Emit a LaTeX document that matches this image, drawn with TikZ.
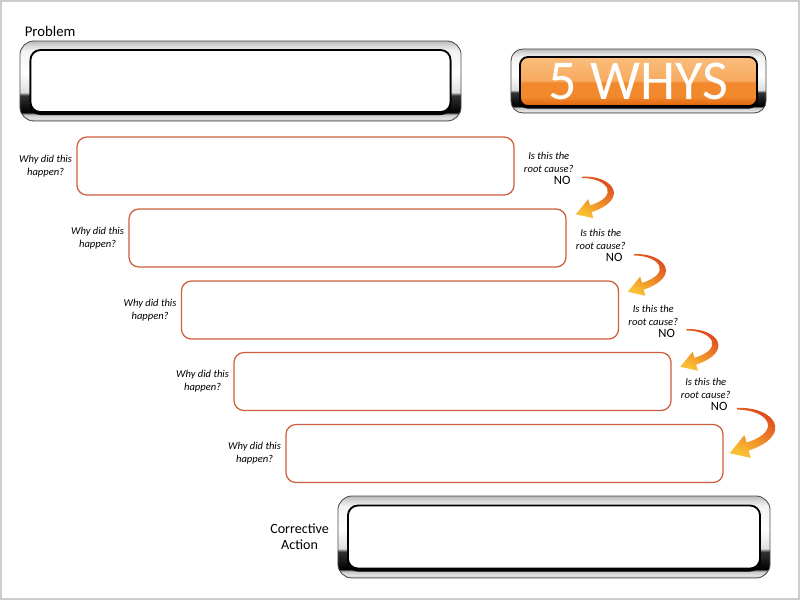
\documentclass[tikz,border=0pt]{standalone}
\usepackage{fontspec}
\setmainfont{Carlito}
\usepackage{tikz}
\usetikzlibrary{positioning}
\usepackage{xcolor}
\definecolor{whyline}{RGB}{205,95,60}
\definecolor{arrowred}{RGB}{215,50,25}
\definecolor{arroworange}{RGB}{240,105,30}
\definecolor{arrowyellow}{RGB}{250,190,50}
\definecolor{pageframe}{RGB}{205,205,205}
\definecolor{glossdark}{RGB}{225,100,15}
\definecolor{glossmid}{RGB}{242,138,45}
\definecolor{glosslight}{RGB}{247,170,95}
\definecolor{glosstop}{RGB}{250,190,125}

% chrome frame, light at the top, dark low sides
\pgfdeclareverticalshading{chrome}{100bp}{color(0bp)=(gray!75); color(25bp)=(gray!75);
  color(26.5bp)=(gray!20); color(29bp)=(gray!45); color(30.5bp)=(black);
  color(41bp)=(black!80); color(43bp)=(gray!25); color(55bp)=(white);
  color(69bp)=(gray!10); color(72bp)=(gray!30); color(75bp)=(gray!55); color(100bp)=(gray!55)}
\pgfdeclareverticalshading{orangegloss}{100bp}{color(0bp)=(glossdark); color(25bp)=(glossdark);
  color(35bp)=(glossmid); color(49bp)=(glossmid); color(51bp)=(glosslight);
  color(75bp)=(glosstop); color(100bp)=(glosstop)}

\begin{document}
\begin{tikzpicture}[x=0.025cm, y=-0.025cm,
  chromeframe/.style={shade, shading=chrome, draw=gray!60!black, line width=0.6pt, rounded corners=0.35cm},
  chromeinner/.style={fill=white, draw=black, line width=1.3pt, rounded corners=0.25cm,
    preaction={draw=black, line width=1.3pt, transform canvas={yshift=-1.5pt}}},
  orangeinner/.style={shade, shading=orangegloss, draw=black, line width=1.3pt, rounded corners=0.2cm,
    preaction={draw=black, line width=1.3pt, transform canvas={yshift=-1.2pt}}},
  whybox/.style={draw=whyline, line width=0.9pt, fill=white, rounded corners=0.25cm,
    minimum width=10.925cm, minimum height=1.45cm},
  asktext/.style={font=\fontsize{7.5}{9}\selectfont\itshape, align=center, inner sep=0pt},
  notext/.style={font=\fontsize{9}{10}\selectfont, inner sep=0pt},
  lbltext/.style={font=\fontsize{10.5}{11.5}\selectfont, inner sep=0pt},
  noarrow/.pic={
    \shade[top color=arrowred, middle color=arroworange, bottom color=arrowyellow, shading angle=-30]
      (0,0.7) -- (0,-0.7) .. controls (32,-2) and (48,22) .. (9.8,34.9) -- (11.6,41)
      -- (-6,37) -- (6.3,22) -- (8.2,28.1) .. controls (38,19) and (27,1) .. (0,0.7) -- cycle;
  }]
  \useasboundingbox (0,0) rectangle (800,600);
  \draw[pageframe, line width=1.5pt] (1,1) rectangle (799,599);

  % Problem
  \node[chromeframe, minimum width=11.025cm, minimum height=2cm] (problem) at (240.5,81) {};
  \node[chromeinner, minimum width=10.5cm, minimum height=1.55cm] (probleminner) at (problem.center) {};
  \node[lbltext, anchor=base west] (lblproblem) at ([shift={(5,-4)}]problem.north west) {Problem};

  % 5 WHYS
  \node[chromeframe, rounded corners=0.3cm, minimum width=6.375cm, minimum height=1.6cm] (fivewhys) at (638.5,81) {};
  \node[orangeinner, minimum width=5.925cm, minimum height=1.225cm, text=white,
    font=\fontsize{40}{40}\selectfont] (fivewhysinner) at ([shift={(0,0.5)}]fivewhys.center) {5 WHYS};

  % Why boxes
  \node[whybox] (why1) at (295.5,166) {};
  \node[whybox] (why2) at (347.5,238) {};
  \node[whybox] (why3) at (400,310) {};
  \node[whybox] (why4) at (452.5,381.5) {};
  \node[whybox] (why5) at (504.5,453.5) {};

  \node[asktext, left=0.1cm of why1] (ask1) {Why did this\\happen?};
  \node[asktext, left=0.1cm of why2] (ask2) {Why did this\\happen?};
  \node[asktext, left=0.1cm of why3] (ask3) {Why did this\\happen?};
  \node[asktext, left=0.1cm of why4] (ask4) {Why did this\\happen?};
  \node[asktext, left=0.1cm of why5] (ask5) {Why did this\\happen?};

  % Root cause checks
  \node[asktext, right=0.225cm of why1, yshift=0.0875cm] (cause1) {Is this the\\root cause?};
  \node[asktext, right=0.225cm of why2, yshift=-0.0375cm] (cause2) {Is this the\\root cause?};
  \node[asktext, right=0.225cm of why3, yshift=-0.1375cm] (cause3) {Is this the\\root cause?};
  \node[asktext, right=0.225cm of why4, yshift=-0.175cm] (cause4) {Is this the\\root cause?};

  \node[notext, below left=0.0875cm and 0.075cm of cause1.south east] (no1) {NO};
  \node[notext, below left=0.0875cm and 0.075cm of cause2.south east] (no2) {NO};
  \node[notext, below left=0.0875cm and 0.075cm of cause3.south east] (no3) {NO};
  \node[notext, below left=0.0875cm and 0.075cm of cause4.south east] (no4) {NO};

  \pic at ([shift={(11,-3.5)}]no1.east) {noarrow};
  \pic at ([shift={(11,-3)}]no2.east) {noarrow};
  \pic at ([shift={(11,-4)}]no3.east) {noarrow};
  \pic[scale=1.2] at ([shift={(9,2)}]no4.east) {noarrow};

  % Corrective Action
  \node[chromeframe, minimum width=10.8cm, minimum height=2.05cm] (action) at (554,537) {};
  \node[chromeinner, minimum width=10.3cm, minimum height=1.575cm] (actioninner) at (action.center) {};
  \node[lbltext, font=\fontsize{10}{11.5}\selectfont, align=center, left=0.21cm of action] (lblaction) {Corrective\\Action};
\end{tikzpicture}
\end{document}
